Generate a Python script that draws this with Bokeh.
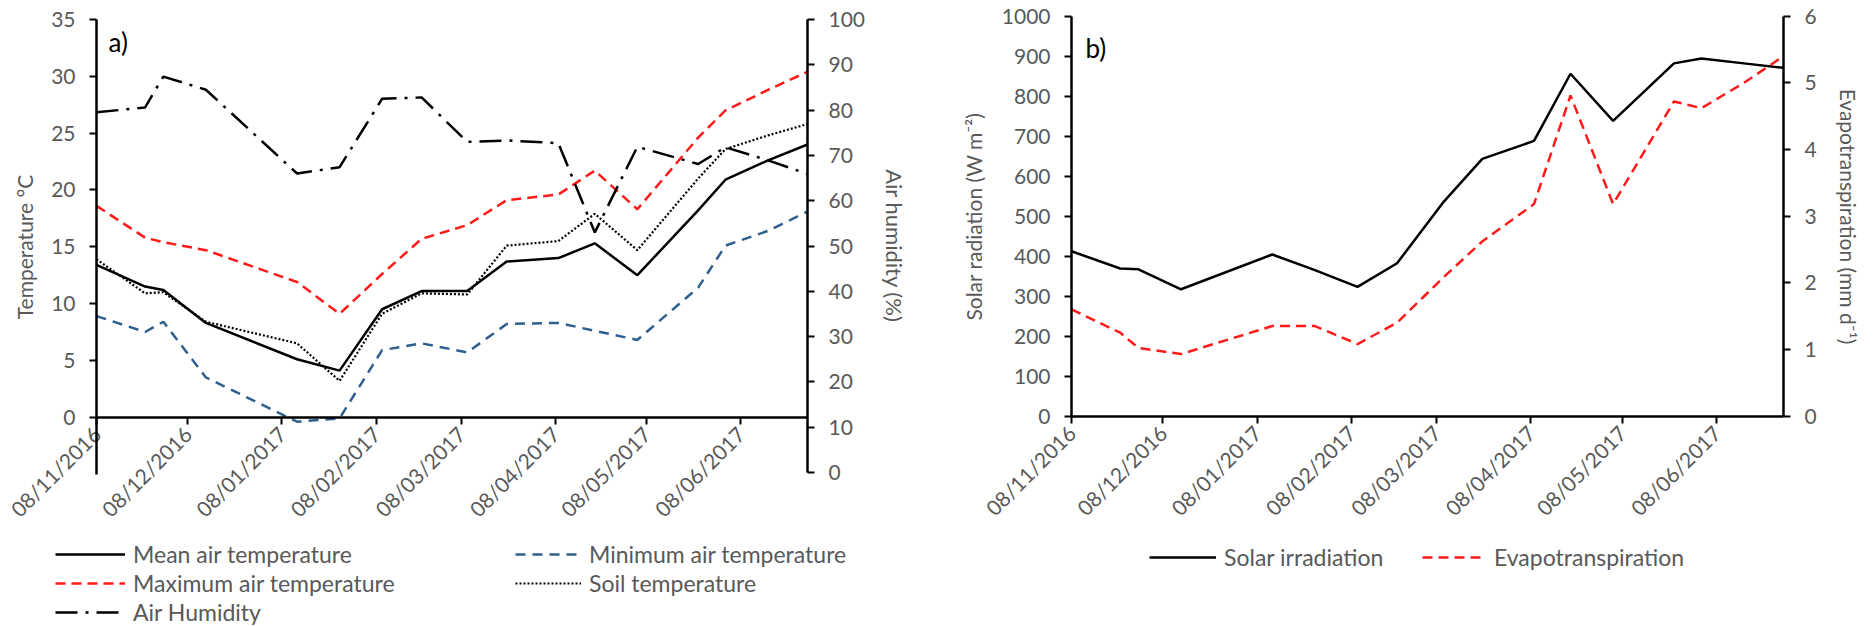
import pandas as pd
from bokeh.plotting import figure
from bokeh.models import (Range1d, LinearAxis, FixedTicker, Legend, LegendItem, Label,
                          ColumnDataSource, DatetimeTickFormatter)
from bokeh.layouts import row
from bokeh.embed import file_html
from bokeh.resources import INLINE

# ---------------- data ----------------
dates = ["2016-11-08", "2016-11-24", "2016-11-30", "2016-12-14", "2017-01-13", "2017-01-27",
         "2017-02-10", "2017-02-23", "2017-03-10", "2017-03-23", "2017-04-09", "2017-04-21",
         "2017-05-05", "2017-05-25", "2017-06-03", "2017-06-17", "2017-06-30"]
mean_temp = [13.4, 11.5, 11.2, 8.3, 5.1, 4.1, 9.5, 11.1, 11.1, 13.7, 14.0, 15.3, 12.5, 18.2, 20.9, 22.6, 24.0]
max_temp = [18.6, 15.8, 15.4, 14.7, 11.9, 9.1, 12.6, 15.7, 16.9, 19.1, 19.6, 21.7, 18.3, 24.6, 27.0, 28.8, 30.4]
min_temp = [8.9, 7.5, 8.4, 3.5, -0.4, -0.1, 5.9, 6.5, 5.7, 8.2, 8.3, 7.6, 6.8, 11.4, 15.1, 16.4, 18.1]
soil_temp = [13.9, 10.9, 11.0, 8.4, 6.5, 3.2, 9.1, 10.9, 10.8, 15.1, 15.5, 17.9, 14.7, 21.0, 23.6, 24.8, 25.8]
humidity = [79.5, 80.6, 87.4, 84.5, 66.0, 67.4, 82.5, 82.8, 73.0, 73.3, 72.7, 53.0, 71.9, 68.1, 71.8, 68.9, 65.9]
solar = [412, 369, 367, 317, 404, 365, 323, 382, 533, 643, 688, 856, 738, 882, 894, 882, 871]
et = [1.60, 1.25, 1.02, 0.93, 1.35, 1.35, 1.08, 1.40, 2.07, 2.62, 3.18, 4.81, 3.18, 4.72, 4.62, 5.00, 5.40]

x_tick_labels = ["08/11/2016", "08/12/2016", "08/01/2017", "08/02/2017",
                 "08/03/2017", "08/04/2017", "08/05/2017", "08/06/2017"]
temp_ticks = [0, 5, 10, 15, 20, 25, 30, 35]
hum_ticks = [0, 10, 20, 30, 40, 50, 60, 70, 80, 90, 100]
solar_ticks = [0, 100, 200, 300, 400, 500, 600, 700, 800, 900, 1000]
et_ticks = [0, 1, 2, 3, 4, 5, 6]

# ---------------- styling ----------------
FONT = "Lato"
GRAY = "#595959"
FS = "21px"
LEG_FS = "23px"
BLUE = "#2F5F8F"
RED = "#FF1A1A"
H = 626

xs = pd.to_datetime(dates)
x0, x1 = xs[0], xs[-1]
x0_ms = x0.value / 1e6
x1_ms = x1.value / 1e6
tick_ms = [pd.to_datetime(t, dayfirst=True).value / 1e6 for t in x_tick_labels]
fmt_str = "%d/%m/%Y"
date_fmt = DatetimeTickFormatter(days=fmt_str, months=fmt_str, years=fmt_str, hours=fmt_str,
                                 hourmin=fmt_str, minutes=fmt_str, minsec=fmt_str,
                                 seconds=fmt_str, milliseconds=fmt_str, microseconds=fmt_str)

src = ColumnDataSource(dict(x=xs, mean=mean_temp, mx=max_temp, mn=min_temp, soil=soil_temp,
                            hum=humidity, solar=solar, et=et))


def style_axis(ax, label_standoff=14, title_standoff=12):
    ax.axis_line_color = "black"
    ax.axis_line_width = 2.5
    ax.major_tick_line_color = "black"
    ax.major_tick_line_width = 2
    ax.major_tick_out = 7
    ax.major_tick_in = 0
    ax.minor_tick_line_color = None
    ax.major_label_text_font = FONT
    ax.major_label_text_font_size = FS
    ax.major_label_text_color = GRAY
    ax.major_label_standoff = label_standoff
    ax.axis_label_text_font = FONT
    ax.axis_label_text_font_size = FS
    ax.axis_label_text_color = GRAY
    ax.axis_label_text_font_style = "normal"
    ax.axis_label_standoff = title_standoff


def span_range(width_px, left_px, right_px, v_left, v_right):
    """Range whose values v_left/v_right fall at pixels left_px/right_px of a full-size frame."""
    per_px = (v_right - v_left) / (right_px - left_px)
    return Range1d(v_left - left_px * per_px, v_right + (width_px - right_px) * per_px)


def span_yrange(top_px, bot_px, v_top, v_bot):
    per_px = (v_top - v_bot) / (bot_px - top_px)
    return Range1d(v_bot - (H - bot_px) * per_px, v_top + top_px * per_px)


def base_fig(width, xl, xr, y_range):
    p = figure(width=width, height=H, x_axis_type="datetime", output_backend="svg",
               toolbar_location=None, x_range=span_range(width, xl, xr, x0_ms, x1_ms),
               y_range=y_range, min_border=0)
    p.outline_line_color = None
    p.xgrid.visible = False
    p.ygrid.visible = False
    p.background_fill_color = "white"
    p.border_fill_color = "white"
    p.xaxis.ticker = FixedTicker(ticks=tick_ms)
    p.xaxis.formatter = date_fmt
    p.xaxis.major_label_orientation = 0.785398
    p.xaxis.fixed_location = 0
    p.xaxis.bounds = (x0_ms, x1_ms)
    p.yaxis.fixed_location = x0_ms
    return p


def make_legend(items, loc, gw=70):
    leg = Legend(items=items, location=loc, orientation="vertical",
                 glyph_width=gw, glyph_height=28, label_height=28, label_standoff=8,
                 spacing=1, padding=0, margin=0, border_line_color=None,
                 background_fill_alpha=0, label_text_font=FONT, label_text_font_size=LEG_FS,
                 label_text_color=GRAY)
    return leg


# ---------------- panel a ----------------
pa = base_fig(940, 96, 807, span_yrange(19, 416.7, 35, 0))
pa.extra_y_ranges = {"hum": span_yrange(19, 472, 100, 0)}
style_axis(pa.xaxis[0], label_standoff=6)
pa.yaxis.ticker = FixedTicker(ticks=temp_ticks)
pa.yaxis.bounds = (-5, 35)
pa.yaxis.axis_label = "Temperature °C"
style_axis(pa.yaxis[0], label_standoff=14, title_standoff=11)
ax_h = LinearAxis(y_range_name="hum", axis_label="Air humidity (%)", ticker=FixedTicker(ticks=hum_ticks),
                  fixed_location=x1_ms, bounds=(0, 100))
style_axis(ax_h, label_standoff=14, title_standoff=13)
ax_h.axis_label_text_font_size = "22px"
pa.add_layout(ax_h, "right")

r_min = pa.line("x", "mn", source=src, line_color=BLUE, line_width=2.5, line_dash="10 7")
r_soil = pa.line("x", "soil", source=src, line_color="black", line_width=2.2, line_dash="2 2")
r_max = pa.line("x", "mx", source=src, line_color=RED, line_width=2.5, line_dash="10 6")
r_mean = pa.line("x", "mean", source=src, line_color="black", line_width=2.5)
r_hum = pa.line("x", "hum", source=src, y_range_name="hum", line_color="black", line_width=2.5,
                line_dash="22 8 3 8")

leg_a1 = make_legend([LegendItem(label="Mean air temperature", renderers=[r_mean]),
                      LegendItem(label="Maximum air temperature", renderers=[r_max]),
                      LegendItem(label="Air Humidity", renderers=[r_hum])], (55, 0))
leg_a2 = make_legend([LegendItem(label="Minimum air temperature", renderers=[r_min]),
                      LegendItem(label="Soil temperature", renderers=[r_soil])], (515, 29), gw=66)
pa.add_layout(leg_a1, "center")
pa.add_layout(leg_a2, "center")
pa.add_layout(Label(x=108, y=H - 25, x_units="screen", y_units="screen", text="a)",
                    text_baseline="top", text_font=FONT, text_font_size="26px", text_color="black"))

# ---------------- panel b ----------------
pb = base_fig(936, 131, 843, span_yrange(15.7, 415.5, 1000, 0))
pb.extra_y_ranges = {"et": span_yrange(15.7, 415.5, 6, 0)}
style_axis(pb.xaxis[0], label_standoff=6)
pb.yaxis.ticker = FixedTicker(ticks=solar_ticks)
pb.yaxis.bounds = (0, 1000)
pb.yaxis.axis_label = "Solar radiation (W m\u207b\u00b2)"
style_axis(pb.yaxis[0], label_standoff=14, title_standoff=13)
ax_et = LinearAxis(y_range_name="et", axis_label="Evapotranspiration (mm d\u207b\u00b9)",
                   ticker=FixedTicker(ticks=et_ticks), fixed_location=x1_ms, bounds=(0, 6))
style_axis(ax_et, label_standoff=14, title_standoff=16)
pb.add_layout(ax_et, "right")

r_solar = pb.line("x", "solar", source=src, line_color="black", line_width=2.5)
r_et = pb.line("x", "et", source=src, y_range_name="et", line_color=RED, line_width=2.5, line_dash="10 6")

leg_b1 = make_legend([LegendItem(label="Solar irradiation", renderers=[r_solar])], (209, 55), gw=67)
leg_b2 = make_legend([LegendItem(label="Evapotranspiration", renderers=[r_et])], (482, 55), gw=64)
pb.add_layout(leg_b1, "center")
pb.add_layout(leg_b2, "center")
pb.add_layout(Label(x=145, y=H - 31, x_units="screen", y_units="screen", text="b)",
                    text_baseline="top", text_font=FONT, text_font_size="26px", text_color="black"))

layout = row(pa, pb)
open("out.html", "w").write(file_html(layout, INLINE))
